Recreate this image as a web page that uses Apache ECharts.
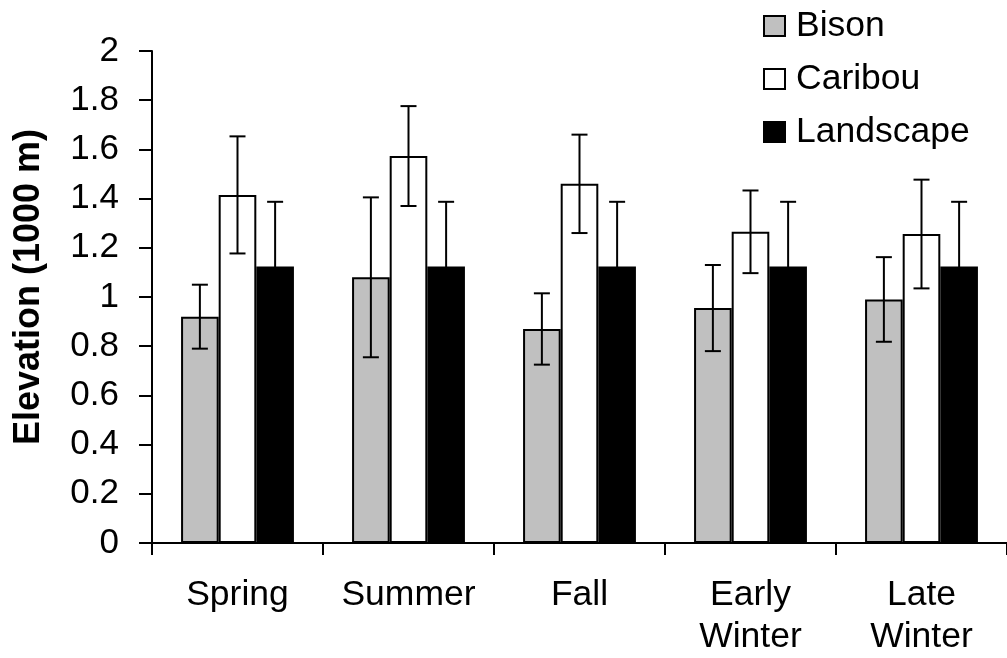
<!DOCTYPE html>
<html>
<head>
<meta charset="utf-8">
<script src="https://cdn.jsdelivr.net/npm/echarts@6/dist/echarts.min.js"></script>
<style>
html,body{margin:0;padding:0;background:#fff;}
#chart{width:1007px;height:658px;}
</style>
</head>
<body>
<div id="chart"></div>
<script>
const categories = ['Spring', 'Summer', 'Fall', 'Early\nWinter', 'Late\nWinter'];
const seriesNames = ['Bison', 'Caribou', 'Landscape'];
const bisonMean = [0.92, 1.08, 0.87, 0.955, 0.99];
const bisonErr = [0.13, 0.325, 0.145, 0.175, 0.172];
const caribouMean = [1.415, 1.573, 1.46, 1.265, 1.256];
const caribouErr = [0.238, 0.203, 0.2, 0.168, 0.221];
const landscapeMean = [1.124, 1.124, 1.124, 1.124, 1.124];
const landscapeErr = [0.263, 0.263, 0.263, 0.263, 0.263];
const yTicks = [0, 0.2, 0.4, 0.6, 0.8, 1, 1.2, 1.4, 1.6, 1.8, 2];

const FONT = 'Liberation Sans, Arial, sans-serif';
const BAR_FRAC = 0.22;

function barSeries(name, data, color) {
  return {
    name: name, type: 'bar', data: data, barWidth: (BAR_FRAC * 100) + '%', barGap: '0%',
    itemStyle: { color: color, borderColor: '#000', borderWidth: 2 },
    emphasis: { disabled: true }, z: 2
  };
}

function errSeries(k, means, errs) {
  return {
    type: 'custom', z: 5, silent: true,
    data: means.map((m, i) => [i, m, errs[i]]),
    encode: { x: 0, y: 1 },
    renderItem: function (params, api) {
      const i = api.value(0), m = api.value(1), e = api.value(2);
      const band = api.size([1, 0])[0];
      const off = (k - 1) * band * BAR_FRAC;
      const top = api.coord([i, m + e]);
      const bot = api.coord([i, m - e]);
      const x = top[0] + off;
      const hw = 8;
      const st = { stroke: '#000', lineWidth: 2 };
      return {
        type: 'group',
        children: [
          { type: 'line', shape: { x1: x, y1: top[1], x2: x, y2: bot[1] }, style: st },
          { type: 'line', shape: { x1: x - hw, y1: top[1], x2: x + hw, y2: top[1] }, style: st },
          { type: 'line', shape: { x1: x - hw, y1: bot[1], x2: x + hw, y2: bot[1] }, style: st }
        ]
      };
    }
  };
}

const chart = echarts.init(document.getElementById('chart'), null, { renderer: 'canvas' });
chart.setOption({
  animation: false,
  backgroundColor: '#fff',
  textStyle: { fontFamily: FONT },
  grid: { left: 152, right: -2, top: 51, bottom: 113.5, containLabel: false },
  legend: {
    data: seriesNames, orient: 'vertical', left: 758, top: 3,
    icon: 'rect', itemWidth: 21, itemHeight: 20, itemGap: 17,
    textStyle: { fontSize: 35.5, color: '#000', fontFamily: FONT, lineHeight: 36, padding: [0, 0, 0, 6] }
  },
  xAxis: {
    type: 'category', data: categories,
    axisLine: { lineStyle: { color: '#000', width: 2 } },
    axisTick: { show: true, length: 12, lineStyle: { color: '#000', width: 2 } },
    axisLabel: { color: '#000', fontSize: 35.5, lineHeight: 42, margin: 31, fontFamily: FONT, interval: 0 }
  },
  yAxis: {
    type: 'value', min: 0, max: 2, interval: 0.2,
    name: 'Elevation (1000 m)', nameLocation: 'middle', nameGap: 105,
    nameTextStyle: { fontSize: 36, fontWeight: 'bold', color: '#000', fontFamily: FONT, padding: [0, 0, 0, 20] },
    axisLine: { show: true, lineStyle: { color: '#000', width: 2 } },
    axisTick: { show: true, length: 13, lineStyle: { color: '#000', width: 2 } },
    splitLine: { show: false },
    axisLabel: {
      color: '#000', fontSize: 35, margin: 33, fontFamily: FONT,
      formatter: function (v) {
        const t = yTicks.find(x => Math.abs(x - v) < 1e-6);
        return t === undefined ? '' : String(t);
      }
    }
  },
  series: [
    barSeries('Bison', bisonMean, '#c0c0c0'),
    barSeries('Caribou', caribouMean, '#ffffff'),
    barSeries('Landscape', landscapeMean, '#000000'),
    errSeries(0, bisonMean, bisonErr),
    errSeries(1, caribouMean, caribouErr),
    errSeries(2, landscapeMean, landscapeErr)
  ]
});
</script>
</body>
</html>
